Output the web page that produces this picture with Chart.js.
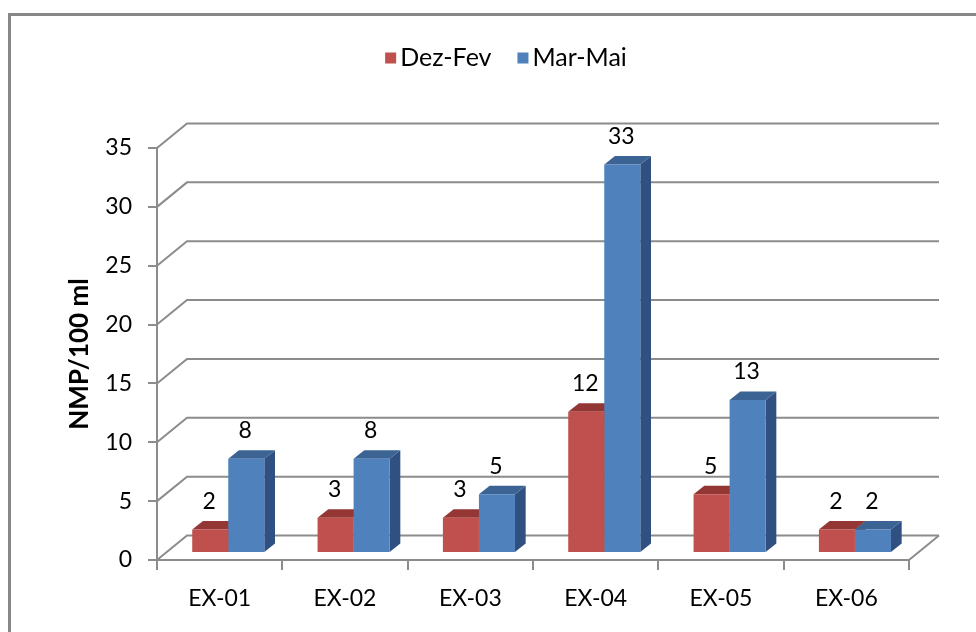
<!DOCTYPE html>
<html>
<head>
<meta charset="utf-8">
<script src="https://cdn.jsdelivr.net/npm/chart.js@4/dist/chart.umd.min.js"></script>
<style>
  html, body { margin: 0; padding: 0; background: #ffffff; }
  #wrap { position: relative; width: 976px; height: 632px; }
  canvas { display: block; }
</style>
</head>
<body>
<div id="wrap"><canvas id="chart" width="976" height="632"></canvas></div>
<script>
// Sampling points and seasonal counts (NMP/100 ml)
const categories = ['EX-01', 'EX-02', 'EX-03', 'EX-04', 'EX-05', 'EX-06'];
const dezFev = [2, 3, 3, 12, 5, 2];
const marMai = [8, 8, 5, 33, 13, 2];
const seriesNames = ['Dez-Fev', 'Mar-Mai'];
const yTickValues = [0, 5, 10, 15, 20, 25, 30, 35];
const yTitle = 'NMP/100 ml';

const FONT = 'Lato, "Open Sans", sans-serif';
const GRID = '#8c8c8c';

// Oblique projection used for the 3-D look
const WALL = { dx: 30, dy: -24.5 };      // depth of floor / side wall
const SHIFT = { dx: 8.6, dy: -7 };       // bars sit a little behind the front edge
const DEPTH = { dx: 10.7, dy: -8.5 };    // bar thickness

const faceColors = [
  { front: '#c0504d', top: '#943634', side: '#7f2c2a' },
  { front: '#4f81bd', top: '#3b6394', side: '#2f5080' }
];

const threeD = {
  id: 'threeD',
  beforeDraw(chart) {
    const ctx = chart.ctx;
    ctx.save();
    ctx.strokeStyle = '#878787';
    ctx.lineWidth = 3;
    ctx.strokeRect(9.5, 14.5, 1100, 800);
    ctx.restore();
  },
  beforeDatasetsDraw(chart) {
    const ctx = chart.ctx;
    const { left, right, bottom } = chart.chartArea;
    const y = chart.scales.y;
    ctx.save();
    ctx.strokeStyle = GRID;
    ctx.lineWidth = 2;
    ctx.lineCap = 'butt';
    y.ticks.forEach(t => {
      const py = y.getPixelForValue(t.value);
      ctx.beginPath();
      ctx.moveTo(left, py);
      ctx.lineTo(left + WALL.dx, py + WALL.dy);
      ctx.lineTo(right + WALL.dx, py + WALL.dy);
      ctx.stroke();
    });
    // right edge of the floor
    ctx.beginPath();
    ctx.moveTo(right, bottom);
    ctx.lineTo(right + WALL.dx, bottom + WALL.dy);
    ctx.stroke();
    ctx.restore();

    // top and side faces of every bar, left series first; the front faces
    // drawn afterwards by Chart.js hide whatever lies behind them
    ctx.save();
    ctx.translate(SHIFT.dx, SHIFT.dy);
    chart.data.datasets.forEach((ds, i) => {
      const c = faceColors[i];
      chart.getDatasetMeta(i).data.forEach(el => {
        const { x, y: top, base, width } = el.getProps(['x', 'y', 'base', 'width'], true);
        const l = x - width / 2, r = x + width / 2;
        ctx.fillStyle = c.side;
        ctx.beginPath();
        ctx.moveTo(r, top);
        ctx.lineTo(r + DEPTH.dx, top + DEPTH.dy);
        ctx.lineTo(r + DEPTH.dx, base + DEPTH.dy);
        ctx.lineTo(r, base);
        ctx.closePath();
        ctx.fill();
        ctx.fillStyle = c.top;
        ctx.beginPath();
        ctx.moveTo(l, top);
        ctx.lineTo(r, top);
        ctx.lineTo(r + DEPTH.dx, top + DEPTH.dy);
        ctx.lineTo(l + DEPTH.dx, top + DEPTH.dy);
        ctx.closePath();
        ctx.fill();
      });
    });
    ctx.restore();
  },
  beforeDatasetDraw(chart) {
    chart.ctx.save();
    chart.ctx.translate(SHIFT.dx, SHIFT.dy);
  },
  afterDatasetDraw(chart) {
    chart.ctx.restore();
  },
  afterDatasetsDraw(chart) {
    const ctx = chart.ctx;
    ctx.save();
    ctx.font = '23px ' + FONT;
    ctx.fillStyle = '#000';
    ctx.textAlign = 'center';
    ctx.textBaseline = 'middle';
    chart.data.datasets.forEach((ds, i) => {
      chart.getDatasetMeta(i).data.forEach((el, j) => {
        const { x, y } = el.getProps(['x', 'y'], true);
        ctx.fillText(String(ds.data[j]), x + SHIFT.dx - 1, y + SHIFT.dy - 28);
      });
    });
    ctx.restore();
  },
  afterDraw(chart) {
    // legend: square swatch followed by the series name, centred above the plot
    const ctx = chart.ctx;
    ctx.save();
    ctx.font = '25px ' + FONT;
    ctx.textBaseline = 'middle';
    ctx.textAlign = 'left';
    const box = 11, gapText = 4, gapItem = 26, cy = 58;
    const widths = chart.data.datasets.map(ds => box + gapText + ctx.measureText(ds.label).width);
    const total = widths.reduce((a, b) => a + b, 0) + gapItem * (widths.length - 1);
    let x = 506 - total / 2;
    chart.data.datasets.forEach((ds, i) => {
      ctx.fillStyle = ds.backgroundColor;
      ctx.fillRect(x, cy - box / 2, box, box);
      ctx.fillStyle = '#000';
      ctx.fillText(ds.label, x + box + gapText, cy);
      x += widths[i] + gapItem;
    });
    ctx.restore();
  }
};

new Chart(document.getElementById('chart'), {
  type: 'bar',
  data: {
    labels: categories,
    datasets: [
      { label: seriesNames[0], data: dezFev, backgroundColor: faceColors[0].front, clip: false },
      { label: seriesNames[1], data: marMai, backgroundColor: faceColors[1].front, clip: false }
    ]
  },
  options: {
    responsive: false,
    animation: false,
    devicePixelRatio: 1,
    layout: { padding: { left: 64, right: 67, top: 148, bottom: 0 } },
    datasets: { bar: { categoryPercentage: 0.575, barPercentage: 1.0, borderWidth: 0 } },
    plugins: { legend: { display: false }, tooltip: { enabled: false } },
    scales: {
      x: {
        afterFit: s => { s.height = 72; },
        grid: { offset: true, drawOnChartArea: false, drawTicks: true, tickLength: 10, color: GRID, lineWidth: 2 },
        border: { display: true, color: GRID, width: 2 },
        ticks: { color: '#000', padding: 15, font: { family: FONT, size: 23 }, maxRotation: 0 }
      },
      y: {
        min: 0,
        max: 35,
        afterFit: s => { s.width = 93; },
        afterBuildTicks: s => { s.ticks = yTickValues.map(v => ({ value: v })); },
        grid: { drawOnChartArea: false, drawTicks: true, tickLength: 9, color: GRID, lineWidth: 2 },
        border: { display: true, color: GRID, width: 2 },
        ticks: { color: '#000', padding: 16, font: { family: FONT, size: 23 } },
        title: { display: true, text: yTitle, color: '#000', padding: 0, font: { family: FONT, size: 26, weight: 'bold' } }
      }
    }
  },
  plugins: [threeD]
});
</script>
</body>
</html>
